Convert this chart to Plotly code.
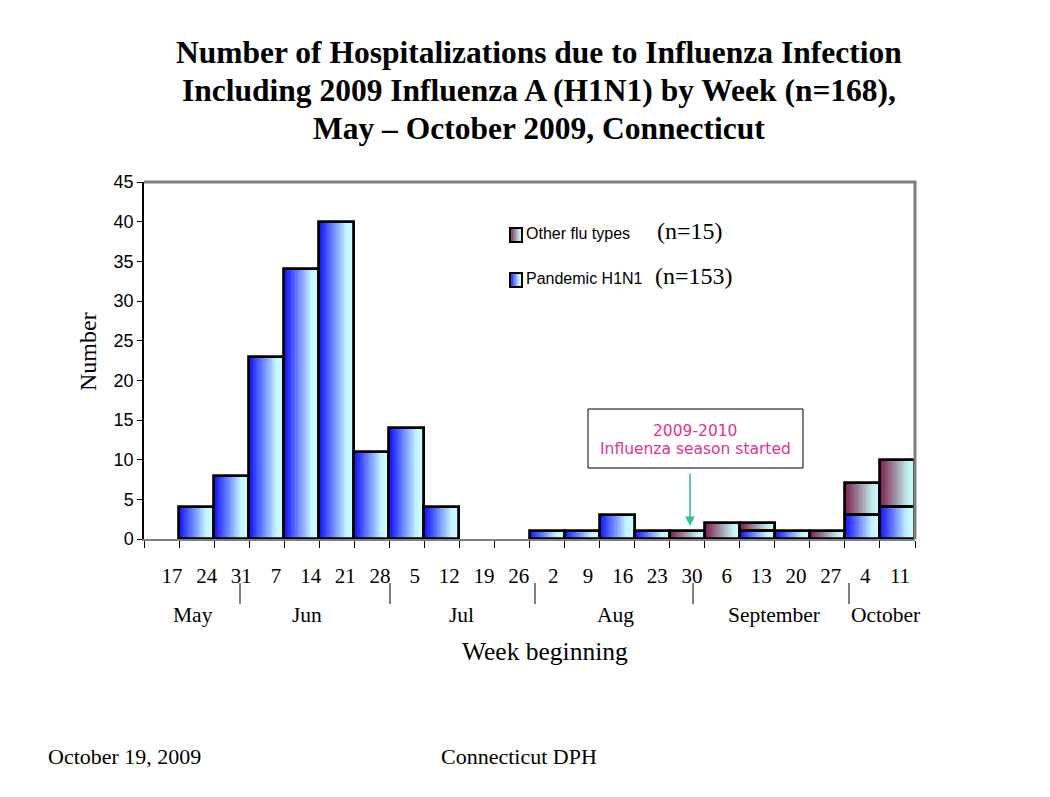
import plotly.graph_objects as go

# ---------------- data ----------------
week_labels = ["17", "24", "31", "7", "14", "21", "28", "5", "12", "19", "26",
               "2", "9", "16", "23", "30", "6", "13", "20", "27", "4", "11"]
h1n1 = [0, 4, 8, 23, 34, 40, 11, 14, 4, 0, 0,
        1, 1, 3, 1, 0, 0, 1, 1, 0, 3, 4]
other = [0, 0, 0, 0, 0, 0, 0, 0, 0, 0, 0,
         0, 0, 0, 0, 1, 2, 1, 0, 1, 4, 6]
months = ["May", "Jun", "Jul", "Aug", "September", "October"]
legend_names = ["Other flu types", "Pandemic H1N1"]
legend_counts = ["(n=15)", "(n=153)"]

SERIF = "Liberation Serif, Times New Roman, serif"
NARROW = "Liberation Sans, Arial, sans-serif"
VERDANA = "DejaVu Sans, Verdana, sans-serif"

# page offset of the figure (body margin) and plot area in screen pixels
OFF = 8
FW, FH = 1050 - 2 * OFF, 797 - 2 * OFF
L, R, T, B = 144, 915, 182, 539
PW, PH = R - L, B - T


def px(x):
    return (x - L) / PW


def py(y):
    return (B - y) / PH


def lerp(c1, c2, t):
    return tuple(int(round(a + (b - a) * t)) for a, b in zip(c1, c2))


def grad_color(stops, t):
    for (t0, c0), (t1, c1) in zip(stops[:-1], stops[1:]):
        if t <= t1:
            return "rgb(%d,%d,%d)" % lerp(c0, c1, (t - t0) / (t1 - t0) if t1 > t0 else 0)
    return "rgb(%d,%d,%d)" % stops[-1][1]


blue_stops = [(0.0, (10, 10, 255)), (0.78, (196, 244, 255)), (1.0, (206, 255, 255))]
maroon_stops = [(0.0, (122, 24, 72)), (0.8, (192, 238, 238)), (1.0, (206, 255, 255))]

idx = list(range(len(week_labels)))
N = 24
fig = go.Figure()


def nz(vals):
    return [v if v > 0 else None for v in vals]


def add_gradient_bars(vals, base, stops):
    for k in range(N):
        t = (k + 0.5) / N
        fig.add_trace(go.Bar(
            x=idx, y=nz(vals), base=base,
            width=1.0 / N * 1.15, offset=-0.5 + k / N,
            marker=dict(color=grad_color(stops, t), line=dict(width=0)),
            showlegend=False, hoverinfo="skip"))


add_gradient_bars(h1n1, None, blue_stops)
add_gradient_bars(other, h1n1, maroon_stops)

# outlines
fig.add_trace(go.Bar(x=idx, y=nz(h1n1), width=1.0, offset=-0.5,
                     marker=dict(color="rgba(0,0,0,0)", line=dict(color="black", width=2.8)),
                     showlegend=False, hoverinfo="skip"))
fig.add_trace(go.Bar(x=idx, y=nz(other), base=h1n1, width=1.0, offset=-0.5,
                     marker=dict(color="rgba(0,0,0,0)", line=dict(color="black", width=2.8)),
                     showlegend=False, hoverinfo="skip"))

# invisible trace for the label axis
fig.add_trace(go.Scatter(x=[0], y=[0], xaxis="x2", yaxis="y", mode="markers",
                         marker=dict(opacity=0), showlegend=False, hoverinfo="skip"))

# label axis mapped slightly differently (as on the original slide)
lab_step = (900 - 172) / 21.0
r0 = -(172 - L) / lab_step
r1 = r0 + PW / lab_step

fig.update_layout(
    width=FW, height=FH,
    margin=dict(l=L - OFF, r=FW - (R - OFF), t=T - OFF, b=FH - (B - OFF), pad=0),
    paper_bgcolor="white", plot_bgcolor="white",
    barmode="overlay", bargap=0,
    showlegend=False,
    xaxis=dict(range=[-0.5, len(idx) - 0.5], showgrid=False, zeroline=False,
               showline=True, linecolor="#808080", linewidth=2,
               tickmode="array", tickvals=[i - 0.5 for i in range(len(idx) + 1)],
               ticks="outside", ticklen=7, tickcolor="black", tickwidth=1.3,
               showticklabels=False, fixedrange=True),
    xaxis2=dict(overlaying="x", anchor="y", range=[r0, r1], showgrid=False,
                zeroline=False, showline=False, ticks="",
                tickmode="array", tickvals=idx, ticktext=week_labels,
                tickfont=dict(family=SERIF, size=21, color="black"),
                ticklabelstandoff=22, fixedrange=True),
    yaxis=dict(range=[0, 45], dtick=5, showgrid=False, zeroline=False,
               showline=True, linecolor="black", linewidth=1.5,
               ticks="outside", ticklen=5, tickcolor="black", tickwidth=1.3,
               tickfont=dict(family=NARROW, size=18, color="black"),
               fixedrange=True),
)

shapes = []
# top & right grey frame
shapes.append(dict(type="line", xref="paper", yref="paper", x0=0, x1=1.002, y0=1, y1=1,
                   line=dict(color="#808080", width=3)))
shapes.append(dict(type="line", xref="paper", yref="paper", x0=1, x1=1, y0=0, y1=1,
                   line=dict(color="#808080", width=3)))
# month separators
for sx in [240, 390, 535, 693, 849]:
    shapes.append(dict(type="line", xref="paper", yref="paper", x0=px(sx), x1=px(sx),
                       y0=py(583), y1=py(604), line=dict(color="black", width=1)))
# annotation box
shapes.append(dict(type="rect", xref="paper", yref="paper", x0=px(588), x1=px(803),
                   y0=py(468), y1=py(409), fillcolor="white", line=dict(color="black", width=1)))
# legend swatches (gradient)
for (sy0, sy1, stops) in [(228, 242, maroon_stops), (273, 287, blue_stops)]:
    n = 8
    x0, x1 = 510, 522
    for k in range(n):
        a = x0 + (x1 - x0) * k / n
        b = x0 + (x1 - x0) * (k + 1) / n
        shapes.append(dict(type="rect", xref="paper", yref="paper", x0=px(a), x1=px(b + 0.3),
                           y0=py(sy1), y1=py(sy0), fillcolor=grad_color(stops, (k + 0.5) / n),
                           line=dict(width=0)))
    shapes.append(dict(type="rect", xref="paper", yref="paper", x0=px(x0), x1=px(x1),
                       y0=py(sy1), y1=py(sy0), line=dict(color="black", width=2)))
fig.update_layout(shapes=shapes)

ann = []


def text(s, x, y, size, family=SERIF, color="black", bold=False, xanchor="center", textangle=0):
    if bold:
        s = "<b>" + s + "</b>"
    ann.append(dict(text=s, x=px(x), y=py(y), xref="paper", yref="paper", showarrow=False,
                    xanchor=xanchor, yanchor="middle", textangle=textangle,
                    font=dict(family=family, size=size, color=color)))


# title
text("Number of Hospitalizations due to Influenza Infection", 539, 52, 31.5, bold=True)
text("Including 2009 Influenza A (H1N1) by Week (n=168),", 539, 90, 31.5, bold=True)
text("May \u2013 October 2009, Connecticut", 539, 128, 31.5, bold=True)

# axis titles
text("Number", 88, 352, 24, textangle=-90)
text("Week beginning", 545, 651, 25.5)

# month labels
for m, mx in zip(months, [193, 307, 461, 615, 774, 885]):
    text(m, mx, 615, 21.5)

# legend
text(legend_names[0], 524, 233, 16, family=NARROW, xanchor="left")
text(legend_names[1], 524, 278, 16, family=NARROW, xanchor="left")
text(legend_counts[0], 655, 231, 24, xanchor="left")
text(legend_counts[1], 653, 276, 24, xanchor="left")

# annotation box text
text("2009-2010", 695, 431, 15.5, family=VERDANA, color="#e0338f")
text("Influenza season started", 695, 449, 15.5, family=VERDANA, color="#e0338f")

# arrow
ann.append(dict(x=px(690), y=py(526), xref="paper", yref="paper", ax=0, ay=-54,
                axref="pixel", ayref="pixel", showarrow=True, arrowhead=2, arrowsize=1.2,
                arrowwidth=1.6, arrowcolor="#33c28a", text=""))

# footer
text("October 19, 2009", 124, 756, 22)
text("Connecticut DPH", 519, 756, 22)

fig.update_layout(annotations=ann)

fig.write_html("out.html")
